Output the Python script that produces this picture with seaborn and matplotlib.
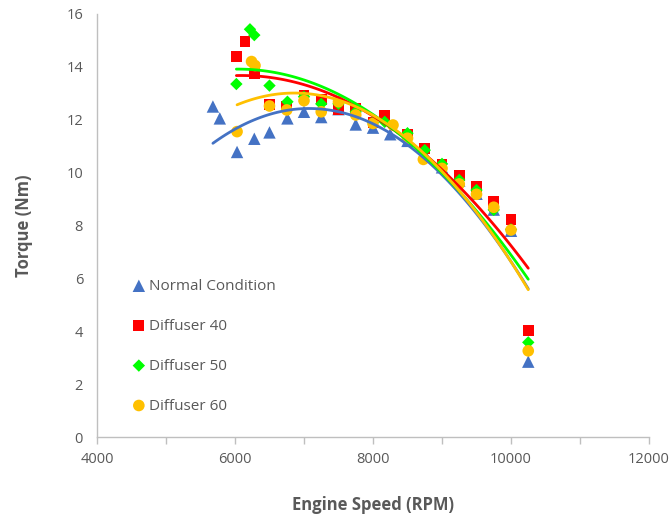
import numpy as np
import pandas as pd
import matplotlib
matplotlib.use("Agg")
import matplotlib.pyplot as plt
import seaborn as sns
from matplotlib.ticker import MultipleLocator

sns.set_theme(style="white")
plt.rcParams['font.family'] = ['Open Sans', 'DejaVu Sans']

# ---- data ----
normal_rpm = [5680, 5780, 6030, 6280, 6500, 6760, 7000, 7250, 7500, 7750, 8000, 8250,
              8500, 8750, 9000, 9250, 9500, 9750, 10000, 10250]
normal_tq = [12.5, 12.05, 10.78, 11.28, 11.52, 12.05, 12.3, 12.1, 12.4, 11.82, 11.7, 11.45,
             11.2, 10.7, 10.2, 9.7, 9.2, 8.6, 7.8, 2.85]

d40_rpm = [6020, 6145, 6280, 6500, 6750, 7000, 7250, 7500, 7750, 8000, 8170,
           8500, 8750, 9000, 9250, 9500, 9750, 10000, 10250]
d40_tq = [14.38, 14.95, 13.75, 12.56, 12.52, 12.9, 12.75, 12.37, 12.44, 11.9, 12.15,
          11.45, 10.92, 10.29, 9.88, 9.47, 8.9, 8.21, 4.02]

d50_rpm = [6020, 6217, 6280, 6500, 6760, 7000, 7250, 7500, 7750, 8000, 8170,
           8500, 8750, 9000, 9250, 9500, 9750, 10000, 10250]
d50_tq = [13.35, 15.42, 15.2, 13.29, 12.68, 12.87, 12.6, 12.6, 12.3, 11.9, 11.92,
          11.49, 10.85, 10.33, 9.72, 9.34, 8.59, 7.85, 3.58]

d60_rpm = [6030, 6240, 6290, 6500, 6750, 7000, 7250, 7500, 7750, 8000, 8290,
           8500, 8730, 9000, 9250, 9500, 9750, 10000, 10250]
d60_tq = [11.55, 14.2, 14.05, 12.52, 12.37, 12.72, 12.3, 12.68, 12.18, 11.86, 11.8,
          11.3, 10.5, 10.16, 9.57, 9.18, 8.69, 7.83, 3.26]

labels = ["Normal Condition", "Diffuser 40", "Diffuser 50", "Diffuser 60"]
x_ticks = [4000, 6000, 8000, 10000, 12000]
y_ticks = [0, 2, 4, 6, 8, 10, 12, 14, 16]

series = [
    (normal_rpm, normal_tq, labels[0], "#4472C4", "^", 80),
    (d40_rpm, d40_tq, labels[1], "#FF0000", "s", 62),
    (d50_rpm, d50_tq, labels[2], "#00FF00", "D", 40),
    (d60_rpm, d60_tq, labels[3], "#FFC000", "o", 70),
]

fig = plt.figure(figsize=(6.72, 5.17), dpi=100)
ax = fig.add_axes([0.1443, 0.1547, 0.8215, 0.8183])

for xs, ys, lab, col, mk, s in series:
    df = pd.DataFrame({"rpm": xs, "torque": ys})
    sns.scatterplot(data=df, x="rpm", y="torque", marker=mk, color=col, s=s,
                    edgecolor="none", linewidth=0, label=lab, ax=ax, zorder=2)

for xs, ys, lab, col, mk, s in series:
    df = pd.DataFrame({"rpm": xs, "torque": ys})
    sns.regplot(data=df, x="rpm", y="torque", order=2, ci=None, scatter=False,
                truncate=True, color=col, line_kws={"linewidth": 2.0, "zorder": 3}, ax=ax)

ax.set_xlim(4000, 12000)
ax.set_ylim(0, 16)
ax.set_xticks(x_ticks)
ax.set_yticks(y_ticks)
ax.xaxis.set_minor_locator(MultipleLocator(1000))

grey = "#595959"
spine_col = "#BFBFBF"
for side in ["top", "right"]:
    ax.spines[side].set_visible(False)
for side in ["left", "bottom"]:
    ax.spines[side].set_color(spine_col)
    ax.spines[side].set_linewidth(1.0)

ax.tick_params(axis="x", which="both", direction="out", length=5, width=1,
               color=spine_col, labelsize=10.5, labelcolor=grey, pad=6, bottom=True)
ax.tick_params(axis="y", which="both", length=0, labelsize=10.5, labelcolor=grey, pad=10)

ax.set_xlabel("Engine Speed (RPM)", fontsize=12, fontweight="bold", color=grey, labelpad=21)
ax.set_ylabel("Torque (Nm)", fontsize=12, fontweight="bold", color=grey, labelpad=24)
ax.grid(False)

leg = ax.legend(loc="upper left", bbox_to_anchor=(0.062, 0.374), frameon=False,
                fontsize=11, labelspacing=1.63, handletextpad=0.15, handlelength=1.0,
                borderpad=0, borderaxespad=0)
for t in leg.get_texts():
    t.set_color(grey)

fig.savefig("out.png", dpi=100)
